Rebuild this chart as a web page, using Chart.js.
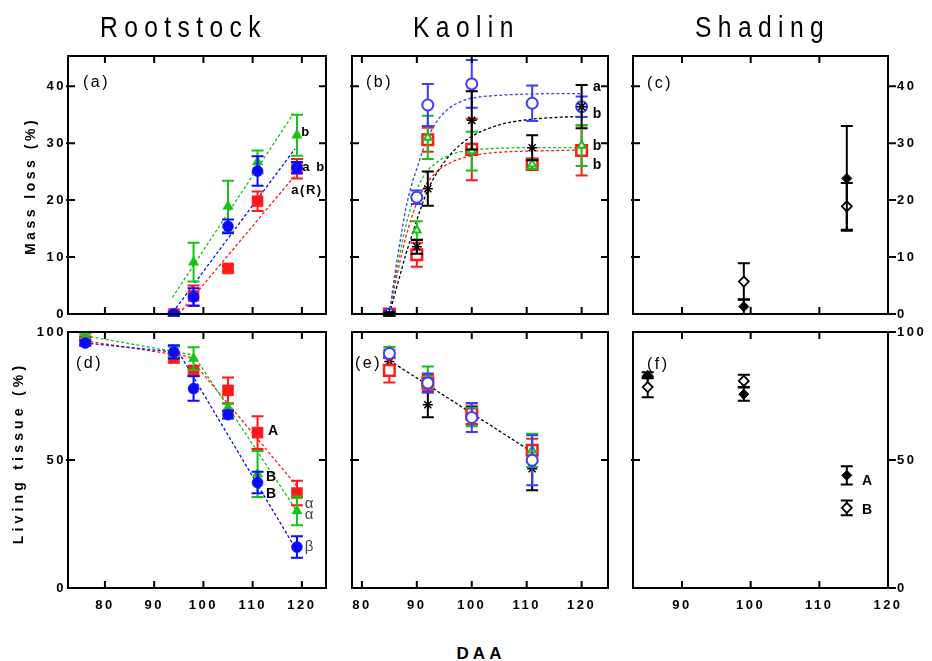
<!DOCTYPE html>
<html><head><meta charset="utf-8">
<script src="https://cdn.jsdelivr.net/npm/chart.js@4.4.1/dist/chart.umd.min.js"></script>
<style>
html,body{margin:0;padding:0;background:#fff;}
body{width:932px;height:661px;position:relative;overflow:hidden;font-family:Arial,"Liberation Sans",sans-serif;}
.cv{position:absolute;}
.t{position:absolute;white-space:nowrap;line-height:1;color:#000;}
</style></head><body>
<script>
// ---------------- DATA ----------------
// Panel (a) Rootstock – mass loss (%)
const daaRoot = [94, 98, 105, 111, 119];
const massRootBlue  = [0, 3.0, 15.4, 25.1, 25.7];
const errRootBlue   = [0.3, 1.5, 1.2, 2.6, 1.0];
const massRootGreen = [0, 9.1, 18.9, 26.7, 31.4];
const errRootGreen  = [0.3, 3.4, 4.5, 2.0, 3.6];
const massRootRed   = [0, 3.2, 8.0, 19.8, 25.5];
const errRootRed    = [0.3, 1.8, 0.5, 1.7, 1.7];
const fitRootBlueX  = [93.8, 118.6], fitRootBlueY  = [0.3, 29.0];
const fitRootGreenX = [93.7, 118.3], fitRootGreenY = [2.9, 35.2];
const fitRootRedX   = [95.0, 118.6], fitRootRedY   = [0.0, 24.3];

// Panel (d) Rootstock – living tissue (%)
const daaRootLT = [76, 94, 98, 105, 111, 119];
const livRootBlue  = [95.7, 92.2, 77.9, 67.7, 41.2, 16.0];
const errLivBlue   = [1.0, 2.6, 4.8, 1.5, 4.2, 4.2];
const livRootGreen = [98.3, 92.2, 89.6, 70.5, 44.5, 30.1];
const errLivGreen  = [1.0, 2.0, 4.4, 1.5, 9.0, 5.6];
const livRootRed   = [96.5, 90.0, 84.8, 77.2, 60.7, 37.1];
const errLivRed    = [1.5, 2.0, 2.0, 5.0, 6.4, 4.8];
const segRootBlueX  = [76, 95, 119],  segRootBlueY  = [95.7, 92.0, 14.5];
const segRootGreenX = [76, 98, 119],  segRootGreenY = [98.5, 91.0, 30.0];
const segRootRedX   = [76, 97, 119],  segRootRedY   = [96.5, 90.4, 39.8];

// Panel (b) Kaolin – mass loss (%)
const daaKaolin = [85, 90, 92, 100, 111, 120];
const massKaoBlack = [0, 11.8, 22.0, 34.0, 29.2, 36.4];
const errKaoBlack  = [0.3, 1.2, 3.0, 5.1, 2.2, 3.8];
const massKaoBlue  = [0, 20.5, 36.7, 40.4, 37.0, 36.4];
const errKaoBlue   = [0.3, 1.2, 3.7, 4.2, 3.1, 1.8];
const massKaoGreen = [0, 14.7, 31.0, 28.6, 26.3, 29.6];
const errKaoGreen  = [0.3, 1.6, 3.8, 3.4, 0.8, 3.6];
const massKaoRed   = [0, 10.4, 30.6, 28.9, 26.3, 28.7];
const errKaoRed    = [0.3, 2.1, 2.1, 5.4, 1.0, 4.4];
const curveKaoX     = [85, 86, 87, 88, 89, 90, 91, 92, 94, 96, 98, 100, 105, 110, 115, 120];
const curveKaoBlue  = [0, 7, 13, 18.5, 22.5, 25.5, 28.5, 31, 34.3, 36.2, 37.3, 37.9, 38.4, 38.6, 38.7, 38.7];
const curveKaoBlack = [0, 3.5, 7, 10.5, 13.5, 16.5, 19.3, 21.8, 25.3, 27.9, 29.8, 31.2, 33.2, 34.1, 34.5, 34.7];
const curveKaoGreen = [0, 6, 11, 15.5, 19, 21.8, 23.8, 25.2, 26.9, 27.9, 28.5, 28.8, 29.1, 29.2, 29.2, 29.2];
const curveKaoRed   = [0, 5, 9.5, 13.5, 16.8, 19.5, 21.6, 23.2, 25.3, 26.5, 27.3, 27.8, 28.4, 28.6, 28.7, 28.8];

// Panel (e) Kaolin – living tissue (%)
const daaKaoLT = [85, 92, 100, 111];
const livKaoBlue  = [91.6, 80.1, 66.6, 49.9];
const errKaoLBlue = [1.5, 3.7, 5.7, 9.8];
const livKaoGreen = [92.6, 82.5, 66.8, 53.8];
const errKaoLGreen= [1.5, 4.0, 3.6, 6.5];
const livKaoRed   = [85.0, 80.2, 68.1, 53.8];
const errKaoLRed  = [4.7, 3.0, 4.0, 4.5];
const livKaoBlack = [88.5, 71.6, 67.4, 46.6];
const errKaoLBlack= [1.5, 4.9, 3.5, 8.4];
const lineKaoLTX = [85, 111], lineKaoLTY = [88.9, 53.1];

// Panel (c) Shading – mass loss (%)
const daaShade = [99, 114];
const massShadeFilled = [1.3, 23.8];
const errShadeFilled  = [1.3, 9.2];
const massShadeOpen   = [5.7, 18.9];
const errShadeOpen    = [3.2, 4.1];

// Panel (f) Shading – living tissue (%)
const daaShadeLT = [85, 99, 114];
const livShadeFilled = [83.1, 75.7, 44.0];
const errLShadeFilled= [1.2, 2.6, 3.6];
const livShadeOpen   = [78.5, 80.9, 31.3];
const errLShadeOpen  = [4.0, 2.4, 2.9];

// Tick labels
const xTicksRoot   = [80, 90, 100, 110, 120];
const xTicksKaolin = [80, 90, 100, 110, 120];
const xTicksShade  = [90, 100, 110, 120];
const yTicksMass   = [0, 10, 20, 30, 40];
const yTicksLiving = [0, 50, 100];

// ---------------- STYLE ----------------
const RED = '#ff1a1a', GREEN = '#19c019', BLUE = '#0a0aff', BLUE2 = '#3d3dff', BLACK = '#000';
const FONT = 'Arial, "Liberation Sans", sans-serif';

function pts(xs, ys){ return xs.map((x,i)=>({x:x, y:ys[i]})); }

function markers(xs, ys, errs, color, style, r, open, bw){
  return { data: pts(xs, ys), errors: errs, showLine:false, pointStyle: style, pointRadius: r, pointHoverRadius:r,
    backgroundColor: open ? '#fff' : color, borderColor: color, borderWidth: bw == null ? (open?2:0.5) : bw };
}
function curve(xs, ys, color, smooth){
  return { data: pts(xs, ys), showLine:true, pointRadius:0, borderColor: color, borderWidth:1.3,
    borderDash:[3,2.2], cubicInterpolationMode: smooth ? 'monotone' : 'default', tension: 0, fill:false };
}

const framePlugin = {
  id:'frame',
  beforeDraw(chart){ chart.ctx.letterSpacing = '2.5px'; },
  beforeDatasetDraw(chart, args){
    const ds = chart.data.datasets[args.index];
    if(!ds.errors) return;
    const ctx = chart.ctx, ys = chart.scales.y;
    ctx.save();
    ctx.strokeStyle = ds.borderColor; ctx.lineWidth = 2; ctx.setLineDash([]);
    args.meta.data.forEach((pt,i)=>{
      const e = ds.errors[i]; if(!e) return;
      const v = ds.data[i].y;
      const yt = ys.getPixelForValue(v+e), yb = ys.getPixelForValue(v-e), x = pt.x, w = 6;
      ctx.beginPath();
      ctx.moveTo(x, yt); ctx.lineTo(x, yb);
      ctx.moveTo(x-w, yt); ctx.lineTo(x+w, yt);
      ctx.moveTo(x-w, yb); ctx.lineTo(x+w, yb);
      ctx.stroke();
    });
    ctx.restore();
  },
  afterDraw(chart){
    const o = chart.options.plugins.frame, a = chart.chartArea, ctx = chart.ctx;
    const xs = chart.scales.x, ys = chart.scales.y;
    ctx.save();
    ctx.strokeStyle = '#000'; ctx.lineWidth = 2; ctx.setLineDash([]);
    ctx.strokeRect(a.left, a.top, a.right-a.left, a.bottom-a.top);
    ctx.beginPath();
    o.xTicks.forEach(v=>{
      const x = xs.getPixelForValue(v);
      if(x < a.left+2 || x > a.right-2) return;
      ctx.moveTo(x, a.bottom); ctx.lineTo(x, a.bottom-7);
      ctx.moveTo(x, a.top); ctx.lineTo(x, a.top+7);
    });
    o.yTicks.forEach(v=>{
      const y = ys.getPixelForValue(v);
      if(o.rightOut){ ctx.moveTo(a.right, y); ctx.lineTo(a.right+8, y); }
      if(y < a.top+2 || y > a.bottom-2) return;
      ctx.moveTo(a.left-2, y); ctx.lineTo(a.left+7, y);
      if(!o.rightOut){ ctx.moveTo(a.right, y); ctx.lineTo(a.right-7, y); }
    });
    ctx.stroke();
    ctx.restore();
  }
};

function panel(c){
  const [l,t,r,b] = c.area, [L,T,R,B] = c.m;
  const cv = document.createElement('canvas');
  const W = (r-l)+L+R, H = (b-t)+T+B;
  cv.width = W; cv.height = H; cv.className = 'cv';
  cv.style.left = (l-L)+'px'; cv.style.top = (t-T)+'px';
  cv.style.width = W+'px'; cv.style.height = H+'px';
  document.body.appendChild(cv);
  const tickFont = {family: FONT, weight:'bold', size:13};
  new Chart(cv, {
    type:'scatter',
    data:{datasets: c.datasets},
    options:{
      responsive:false, animation:false, devicePixelRatio:1,
      layout:{padding:{left: c.rightAxis ? L : 0, right: c.rightAxis ? 0 : R, top: T, bottom: 0}},
      plugins:{legend:{display:false}, tooltip:{enabled:false}, frame:{xTicks:c.xTicks, yTicks:c.yTicks, rightOut: !!c.rightAxis}},
      scales:{
        x:{type:'linear', min:c.xr[0], max:c.xr[1],
          afterBuildTicks: s=>{ s.ticks = c.xTicks.map(v=>({value:v})); },
          afterFit: s=>{ s.height = B; },
          grid:{display:false, drawTicks:false}, border:{display:false},
          ticks:{display: !!c.showX, font: tickFont, color:'#000', padding: 10, maxRotation:0, autoSkip:false}},
        y:{type:'linear', position: c.rightAxis ? 'right' : 'left', min:c.yr[0], max:c.yr[1],
          afterBuildTicks: s=>{ s.ticks = c.yTicks.map(v=>({value:v})); },
          afterFit: s=>{ s.width = c.rightAxis ? R : L; },
          grid:{display:false, drawTicks:false}, border:{display:false},
          ticks:{display: !!c.showY, font: tickFont, color:'#000', padding: c.rightAxis ? 9 : 2, autoSkip:false}}
      }
    },
    plugins:[framePlugin]
  });
}

// (a)
panel({area:[68,56,326,314], m:[68,22,10,22], xr:[72.5,124.9], yr:[0,45.3], xTicks:xTicksRoot, yTicks:yTicksMass, showY:true,
  datasets:[
    markers(daaRoot, massRootBlue, errRootBlue, BLUE, 'circle', 5.5, false),
    markers(daaRoot, massRootGreen, errRootGreen, GREEN, 'triangle', 6, false),
    markers(daaRoot, massRootRed, errRootRed, RED, 'rect', 7.8, false),
    curve(fitRootBlueX, fitRootBlueY, BLUE, false),
    curve(fitRootGreenX, fitRootGreenY, GREEN, false),
    curve(fitRootRedX, fitRootRedY, RED, false)
  ]});
// (b)
panel({area:[352,56,608,314], m:[10,22,10,22], xr:[78.2,124.8], yr:[0,45.3], xTicks:xTicksKaolin, yTicks:yTicksMass,
  datasets:[
    markers(daaKaolin, massKaoBlack, errKaoBlack, BLACK, 'star', 5, true, 1.5),
    markers(daaKaolin, massKaoBlue, errKaoBlue, BLUE2, 'circle', 5.5, true, 2),
    markers(daaKaolin, massKaoGreen, errKaoGreen, GREEN, 'triangle', 4.5, true, 2),
    markers(daaKaolin, massKaoRed, errKaoRed, RED, 'rect', 7.5, true, 2.5),
    curve(curveKaoX, curveKaoBlue, BLUE2, true),
    curve(curveKaoX, curveKaoBlack, BLACK, true),
    curve(curveKaoX, curveKaoGreen, GREEN, true),
    curve(curveKaoX, curveKaoRed, RED, true)
  ]});
// (c)
panel({area:[633,56,888,314], m:[10,22,44,22], xr:[82.86,120], yr:[0,45.3], xTicks:xTicksShade, yTicks:yTicksMass, showY:true, rightAxis:true,
  datasets:[
    markers(daaShade, massShadeFilled, errShadeFilled, BLACK, 'rectRot', 5, false, 1),
    markers(daaShade, massShadeOpen, errShadeOpen, BLACK, 'rectRot', 5, true, 1.8)
  ]});
// (d)
panel({area:[68,332,326,588], m:[68,22,10,34], xr:[72.5,124.9], yr:[0,100], xTicks:xTicksRoot, yTicks:yTicksLiving, showX:true, showY:true,
  datasets:[
    markers(daaRootLT, livRootBlue, errLivBlue, BLUE, 'circle', 5.5, false),
    markers(daaRootLT, livRootGreen, errLivGreen, GREEN, 'triangle', 6, false),
    markers(daaRootLT, livRootRed, errLivRed, RED, 'rect', 7.8, false),
    curve(segRootBlueX, segRootBlueY, BLUE, false),
    curve(segRootGreenX, segRootGreenY, GREEN, false),
    curve(segRootRedX, segRootRedY, RED, false)
  ]});
// (e)
panel({area:[352,332,608,588], m:[20,22,10,34], xr:[78.2,124.8], yr:[0,100], xTicks:xTicksKaolin, yTicks:yTicksLiving, showX:true,
  datasets:[
    markers(daaKaoLT, livKaoBlue, errKaoLBlue, BLUE2, 'circle', 5.5, true, 2),
    markers(daaKaoLT, livKaoGreen, errKaoLGreen, GREEN, 'triangle', 4.5, true, 2),
    markers(daaKaoLT, livKaoRed, errKaoLRed, RED, 'rect', 7.5, true, 2.5),
    markers(daaKaoLT, livKaoBlack, errKaoLBlack, BLACK, 'star', 5, true, 1.5),
    curve(lineKaoLTX, lineKaoLTY, BLACK, false)
  ]});
// (f)
panel({area:[633,332,888,588], m:[10,22,44,34], xr:[82.86,120], yr:[0,100], xTicks:xTicksShade, yTicks:yTicksLiving, showX:true, showY:true, rightAxis:true,
  datasets:[
    markers(daaShadeLT, livShadeFilled, errLShadeFilled, BLACK, 'rectRot', 5, false, 1),
    markers(daaShadeLT, livShadeOpen, errLShadeOpen, BLACK, 'rectRot', 5, true, 1.8)
  ]});

// ---------------- TEXT ----------------
function txt(s, x, y, css, anchor){
  const d = document.createElement('div');
  d.className = 't'; d.textContent = s;
  d.style.cssText += css;
  d.style.left = x+'px'; d.style.top = y+'px';
  d.style.transform = anchor || 'translate(-50%,-50%)';
  document.body.appendChild(d);
  return d;
}
const titleCss = 'font-size:29px;letter-spacing:7.5px;transform-origin:0 0;';
txt('Rootstock', 100, 12.5, titleCss, 'scaleX(0.85)');
txt('Kaolin', 413, 12.5, titleCss, 'scaleX(0.85)');
txt('Shading', 695, 12.5, titleCss, 'scaleX(0.85)');

txt('Mass loss (%)', 30, 186, 'font-size:14px;font-weight:bold;letter-spacing:3.5px;', 'translate(-50%,-50%) rotate(-90deg)');
txt('Living tissue (%)', 18, 453, 'font-size:14px;font-weight:bold;letter-spacing:4.2px;', 'translate(-50%,-50%) rotate(-90deg)');
txt('DAA', 481, 653, 'font-size:17px;font-weight:bold;letter-spacing:4px;');

const plab = 'font-size:16px;letter-spacing:2.5px;';
txt('(a)', 83, 82, plab, 'translateY(-50%)');
txt('(b)', 366, 82, plab, 'translateY(-50%)');
txt('(c)', 647, 83, plab, 'translateY(-50%)');
txt('(d)', 76, 363, plab, 'translateY(-50%)');
txt('(e)', 355, 363, plab, 'translateY(-50%)');
txt('(f)', 647, 364, plab, 'translateY(-50%)');

const ann = 'font-size:13px;font-weight:bold;letter-spacing:1.5px;';
txt('b', 306, 131, ann);
txt('a b', 314, 166, ann);
txt('a(R)', 307, 189, ann);
const ann2 = 'font-size:14px;font-weight:bold;';
txt('a', 597, 86, ann2);
txt('b', 597, 113, ann2);
txt('b', 597, 145, ann2);
txt('b', 597, 164, ann2);
txt('A', 273, 430, ann2);
txt('B', 271, 476, ann2);
txt('B', 271, 493, ann2);
const greek = 'font-size:15px;color:#444;';
txt('α', 309, 502, greek);
txt('α', 309, 513, greek);
txt('β', 309, 545, greek);
txt('A', 867, 480, ann2);
txt('B', 867, 509, ann2);
</script>
</body></html>
